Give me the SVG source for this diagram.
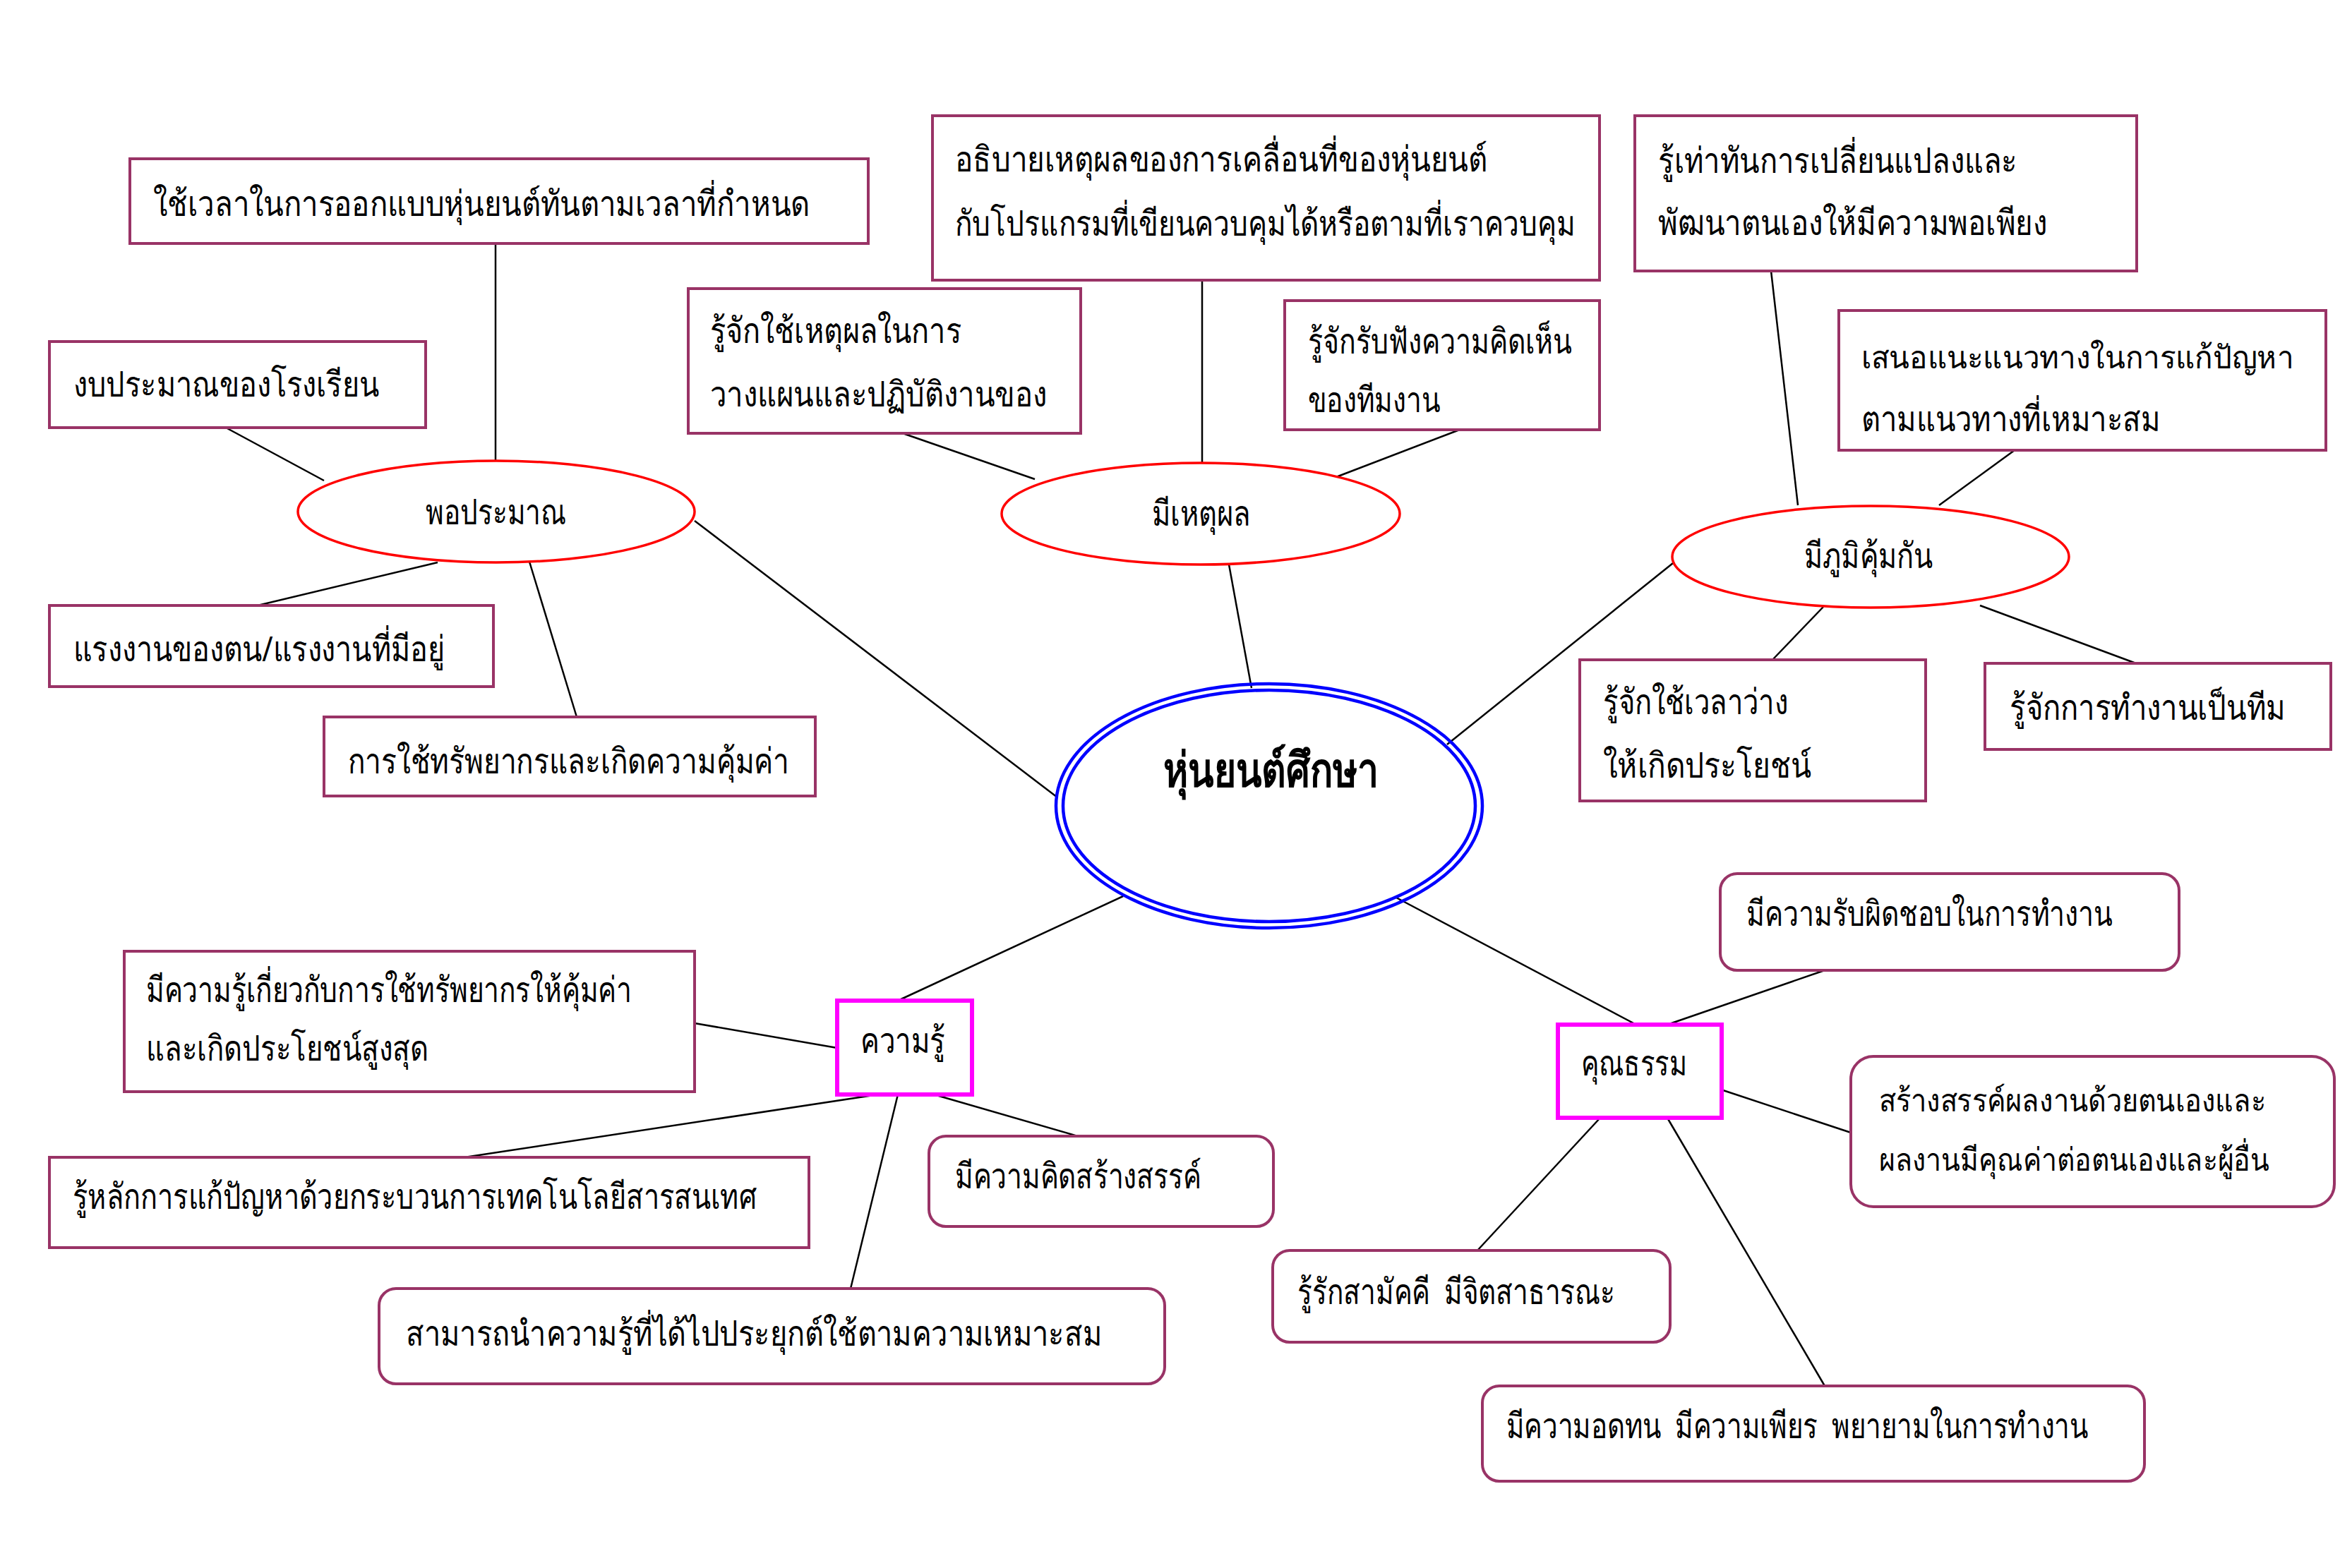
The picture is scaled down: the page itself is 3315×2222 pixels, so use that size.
<svg xmlns="http://www.w3.org/2000/svg" width="3315" height="2222" viewBox="0 0 3315 2222">
<style>
.box{fill:#fff;stroke:#993366;stroke-width:4}
.ell{fill:#fff;stroke:#ff0000;stroke-width:3.5}
.mag{fill:#fff;stroke:#ff00ff;stroke-width:6}
.core{fill:none;stroke:#0000ff;stroke-width:4.5}
.t{font-family:"Noto Sans","DejaVu Sans","Liberation Serif",serif;font-size:50px;fill:#000}
.s{font-size:45px}
.b{font-weight:bold;font-size:68px}
#connectors line{stroke:#000;stroke-width:2.5}
</style>
<rect width="3315" height="2222" fill="#fff"/>
<g id="connectors">
<line x1="702" y1="345" x2="702" y2="653"/>
<line x1="320" y1="606" x2="459" y2="681"/>
<line x1="620" y1="797" x2="365" y2="858"/>
<line x1="750" y1="796" x2="817" y2="1016"/>
<line x1="984" y1="738" x2="1498" y2="1130"/>
<line x1="1273" y1="612" x2="1466" y2="679"/>
<line x1="1703" y1="397" x2="1703" y2="655"/>
<line x1="2073" y1="607" x2="1885" y2="679"/>
<line x1="1741" y1="800" x2="1773" y2="975"/>
<line x1="2509" y1="384" x2="2547" y2="716"/>
<line x1="2854" y1="638" x2="2747" y2="716"/>
<line x1="2583" y1="860" x2="2511" y2="935"/>
<line x1="2805" y1="858" x2="3026" y2="940"/>
<line x1="2370" y1="798" x2="2050" y2="1055"/>
<line x1="1591" y1="1270" x2="1272" y2="1418"/>
<line x1="1186" y1="1485" x2="984" y2="1450"/>
<line x1="1244" y1="1551" x2="658" y2="1640"/>
<line x1="1272" y1="1551" x2="1205" y2="1826"/>
<line x1="1323" y1="1551" x2="1527" y2="1610"/>
<line x1="1978" y1="1272" x2="2318" y2="1452"/>
<line x1="2362" y1="1452" x2="2585" y2="1375"/>
<line x1="2441" y1="1545" x2="2622" y2="1605"/>
<line x1="2267" y1="1584" x2="2093" y2="1772"/>
<line x1="2362" y1="1584" x2="2585" y2="1964"/>
</g>
<g id="core">
<ellipse class="core" cx="1798" cy="1142" rx="302" ry="173"/>
<ellipse class="core" cx="1798" cy="1142" rx="292" ry="164"/>
<text class="t b" x="1648" y="1115" textLength="305" lengthAdjust="spacingAndGlyphs">หุ่นยนต์ศึกษา</text>
</g>
<g id="n-porpraman">
<ellipse class="ell" cx="703" cy="725" rx="281" ry="72"/>
<text class="t" x="603" y="743" textLength="199" lengthAdjust="spacingAndGlyphs">พอประมาณ</text>
</g>
<g id="n-mihetuphon">
<ellipse class="ell" cx="1701" cy="728" rx="282" ry="72"/>
<text class="t" x="1632" y="745" textLength="140" lengthAdjust="spacingAndGlyphs">มีเหตุผล</text>
</g>
<g id="n-phumikumkan">
<ellipse class="ell" cx="2650" cy="789" rx="281" ry="72"/>
<text class="t" x="2556" y="805" textLength="182" lengthAdjust="spacingAndGlyphs">มีภูมิคุ้มกัน</text>
</g>
<g id="n-khwamru">
<rect class="mag" x="1186" y="1418" width="191" height="133"/>
<text class="t" x="1219" y="1492" textLength="120" lengthAdjust="spacingAndGlyphs">ความรู้</text>
</g>
<g id="n-khunatham">
<rect class="mag" x="2207" y="1452" width="232" height="132"/>
<text class="t" x="2240" y="1524" textLength="150" lengthAdjust="spacingAndGlyphs">คุณธรรม</text>
</g>
<g id="a">
<rect class="box" x="184" y="225" width="1046" height="120"/>
<text class="t" x="217" y="306" textLength="930" lengthAdjust="spacingAndGlyphs">ใช้เวลาในการออกแบบหุ่นยนต์ทันตามเวลาที่กำหนด</text>
</g>
<g id="b">
<rect class="box" x="70" y="484" width="533" height="122"/>
<text class="t" x="104" y="562" textLength="433" lengthAdjust="spacingAndGlyphs">งบประมาณของโรงเรียน</text>
</g>
<g id="c">
<rect class="box" x="975" y="409" width="556" height="205"/>
<text class="t" x="1006" y="486" textLength="356" lengthAdjust="spacingAndGlyphs">รู้จักใช้เหตุผลในการ</text>
<text class="t" x="1006" y="576" textLength="477" lengthAdjust="spacingAndGlyphs">วางแผนและปฏิบัติงานของ</text>
</g>
<g id="d">
<rect class="box" x="1321" y="164" width="945" height="233"/>
<text class="t" x="1353" y="243" textLength="754" lengthAdjust="spacingAndGlyphs">อธิบายเหตุผลของการเคลื่อนที่ของหุ่นยนต์</text>
<text class="t" x="1353" y="334" textLength="879" lengthAdjust="spacingAndGlyphs">กับโปรแกรมที่เขียนควบคุมได้หรือตามที่เราควบคุม</text>
</g>
<g id="e">
<rect class="box" x="1820" y="426" width="446" height="183"/>
<text class="t" x="1853" y="501" textLength="374" lengthAdjust="spacingAndGlyphs">รู้จักรับฟังความคิดเห็น</text>
<text class="t" x="1853" y="584" textLength="187" lengthAdjust="spacingAndGlyphs">ของทีมงาน</text>
</g>
<g id="f">
<rect class="box" x="2316" y="164" width="711" height="220"/>
<text class="t" x="2349" y="245" textLength="509" lengthAdjust="spacingAndGlyphs">รู้เท่าทันการเปลี่ยนแปลงและ</text>
<text class="t" x="2349" y="333" textLength="551" lengthAdjust="spacingAndGlyphs">พัฒนาตนเองให้มีความพอเพียง</text>
</g>
<g id="g">
<rect class="box" x="2605" y="440" width="690" height="198"/>
<text class="t s" x="2637" y="522" textLength="612" lengthAdjust="spacingAndGlyphs">เสนอแนะแนวทางในการแก้ปัญหา</text>
<text class="t" x="2637" y="611" textLength="424" lengthAdjust="spacingAndGlyphs">ตามแนวทางที่เหมาะสม</text>
</g>
<g id="h">
<rect class="box" x="70" y="858" width="629" height="115"/>
<text class="t" x="104" y="937" textLength="526" lengthAdjust="spacingAndGlyphs">แรงงานของตน/แรงงานที่มีอยู่</text>
</g>
<g id="i">
<rect class="box" x="459" y="1016" width="696" height="112"/>
<text class="t" x="493" y="1096" textLength="625" lengthAdjust="spacingAndGlyphs">การใช้ทรัพยากรและเกิดความคุ้มค่า</text>
</g>
<g id="j">
<rect class="box" x="2238" y="935" width="490" height="200"/>
<text class="t" x="2271" y="1012" textLength="262" lengthAdjust="spacingAndGlyphs">รู้จักใช้เวลาว่าง</text>
<text class="t" x="2271" y="1102" textLength="295" lengthAdjust="spacingAndGlyphs">ให้เกิดประโยชน์</text>
</g>
<g id="k">
<rect class="box" x="2812" y="940" width="490" height="122"/>
<text class="t" x="2847" y="1020" textLength="391" lengthAdjust="spacingAndGlyphs">รู้จักการทำงานเป็นทีม</text>
</g>
<g id="l">
<rect class="box" x="176" y="1348" width="808" height="199"/>
<text class="t" x="207" y="1420" textLength="688" lengthAdjust="spacingAndGlyphs">มีความรู้เกี่ยวกับการใช้ทรัพยากรให้คุ้มค่า</text>
<text class="t" x="207" y="1503" textLength="400" lengthAdjust="spacingAndGlyphs">และเกิดประโยชน์สูงสุด</text>
</g>
<g id="m">
<rect class="box" x="70" y="1640" width="1076" height="128"/>
<text class="t" x="103" y="1713" textLength="969" lengthAdjust="spacingAndGlyphs">รู้หลักการแก้ปัญหาด้วยกระบวนการเทคโนโลยีสารสนเทศ</text>
</g>
<g id="n">
<rect class="box" x="1316" y="1610" width="488" height="128" rx="24"/>
<text class="t" x="1353" y="1684" textLength="349" lengthAdjust="spacingAndGlyphs">มีความคิดสร้างสรรค์</text>
</g>
<g id="o">
<rect class="box" x="537" y="1826" width="1113" height="135" rx="24"/>
<text class="t" x="575" y="1907" textLength="986" lengthAdjust="spacingAndGlyphs">สามารถนำความรู้ที่ได้ไปประยุกต์ใช้ตามความเหมาะสม</text>
</g>
<g id="p">
<rect class="box" x="2437" y="1238" width="650" height="137" rx="24"/>
<text class="t" x="2474" y="1312" textLength="519" lengthAdjust="spacingAndGlyphs">มีความรับผิดชอบในการทำงาน</text>
</g>
<g id="q">
<rect class="box" x="2622" y="1497" width="685" height="213" rx="32"/>
<text class="t s" x="2662" y="1575" textLength="548" lengthAdjust="spacingAndGlyphs">สร้างสรรค์ผลงานด้วยตนเองและ</text>
<text class="t s" x="2662" y="1659" textLength="553" lengthAdjust="spacingAndGlyphs">ผลงานมีคุณค่าต่อตนเองและผู้อื่น</text>
</g>
<g id="r">
<rect class="box" x="1803" y="1772" width="563" height="130" rx="24"/>
<text class="t" x="1838" y="1848" textLength="450" lengthAdjust="spacingAndGlyphs" xml:space="preserve">รู้รักสามัคคี  มีจิตสาธารณะ</text>
</g>
<g id="s">
<rect class="box" x="2100" y="1964" width="938" height="135" rx="24"/>
<text class="t" x="2134" y="2038" textLength="824" lengthAdjust="spacingAndGlyphs" xml:space="preserve">มีความอดทน  มีความเพียร  พยายามในการทำงาน</text>
</g>
</svg>
